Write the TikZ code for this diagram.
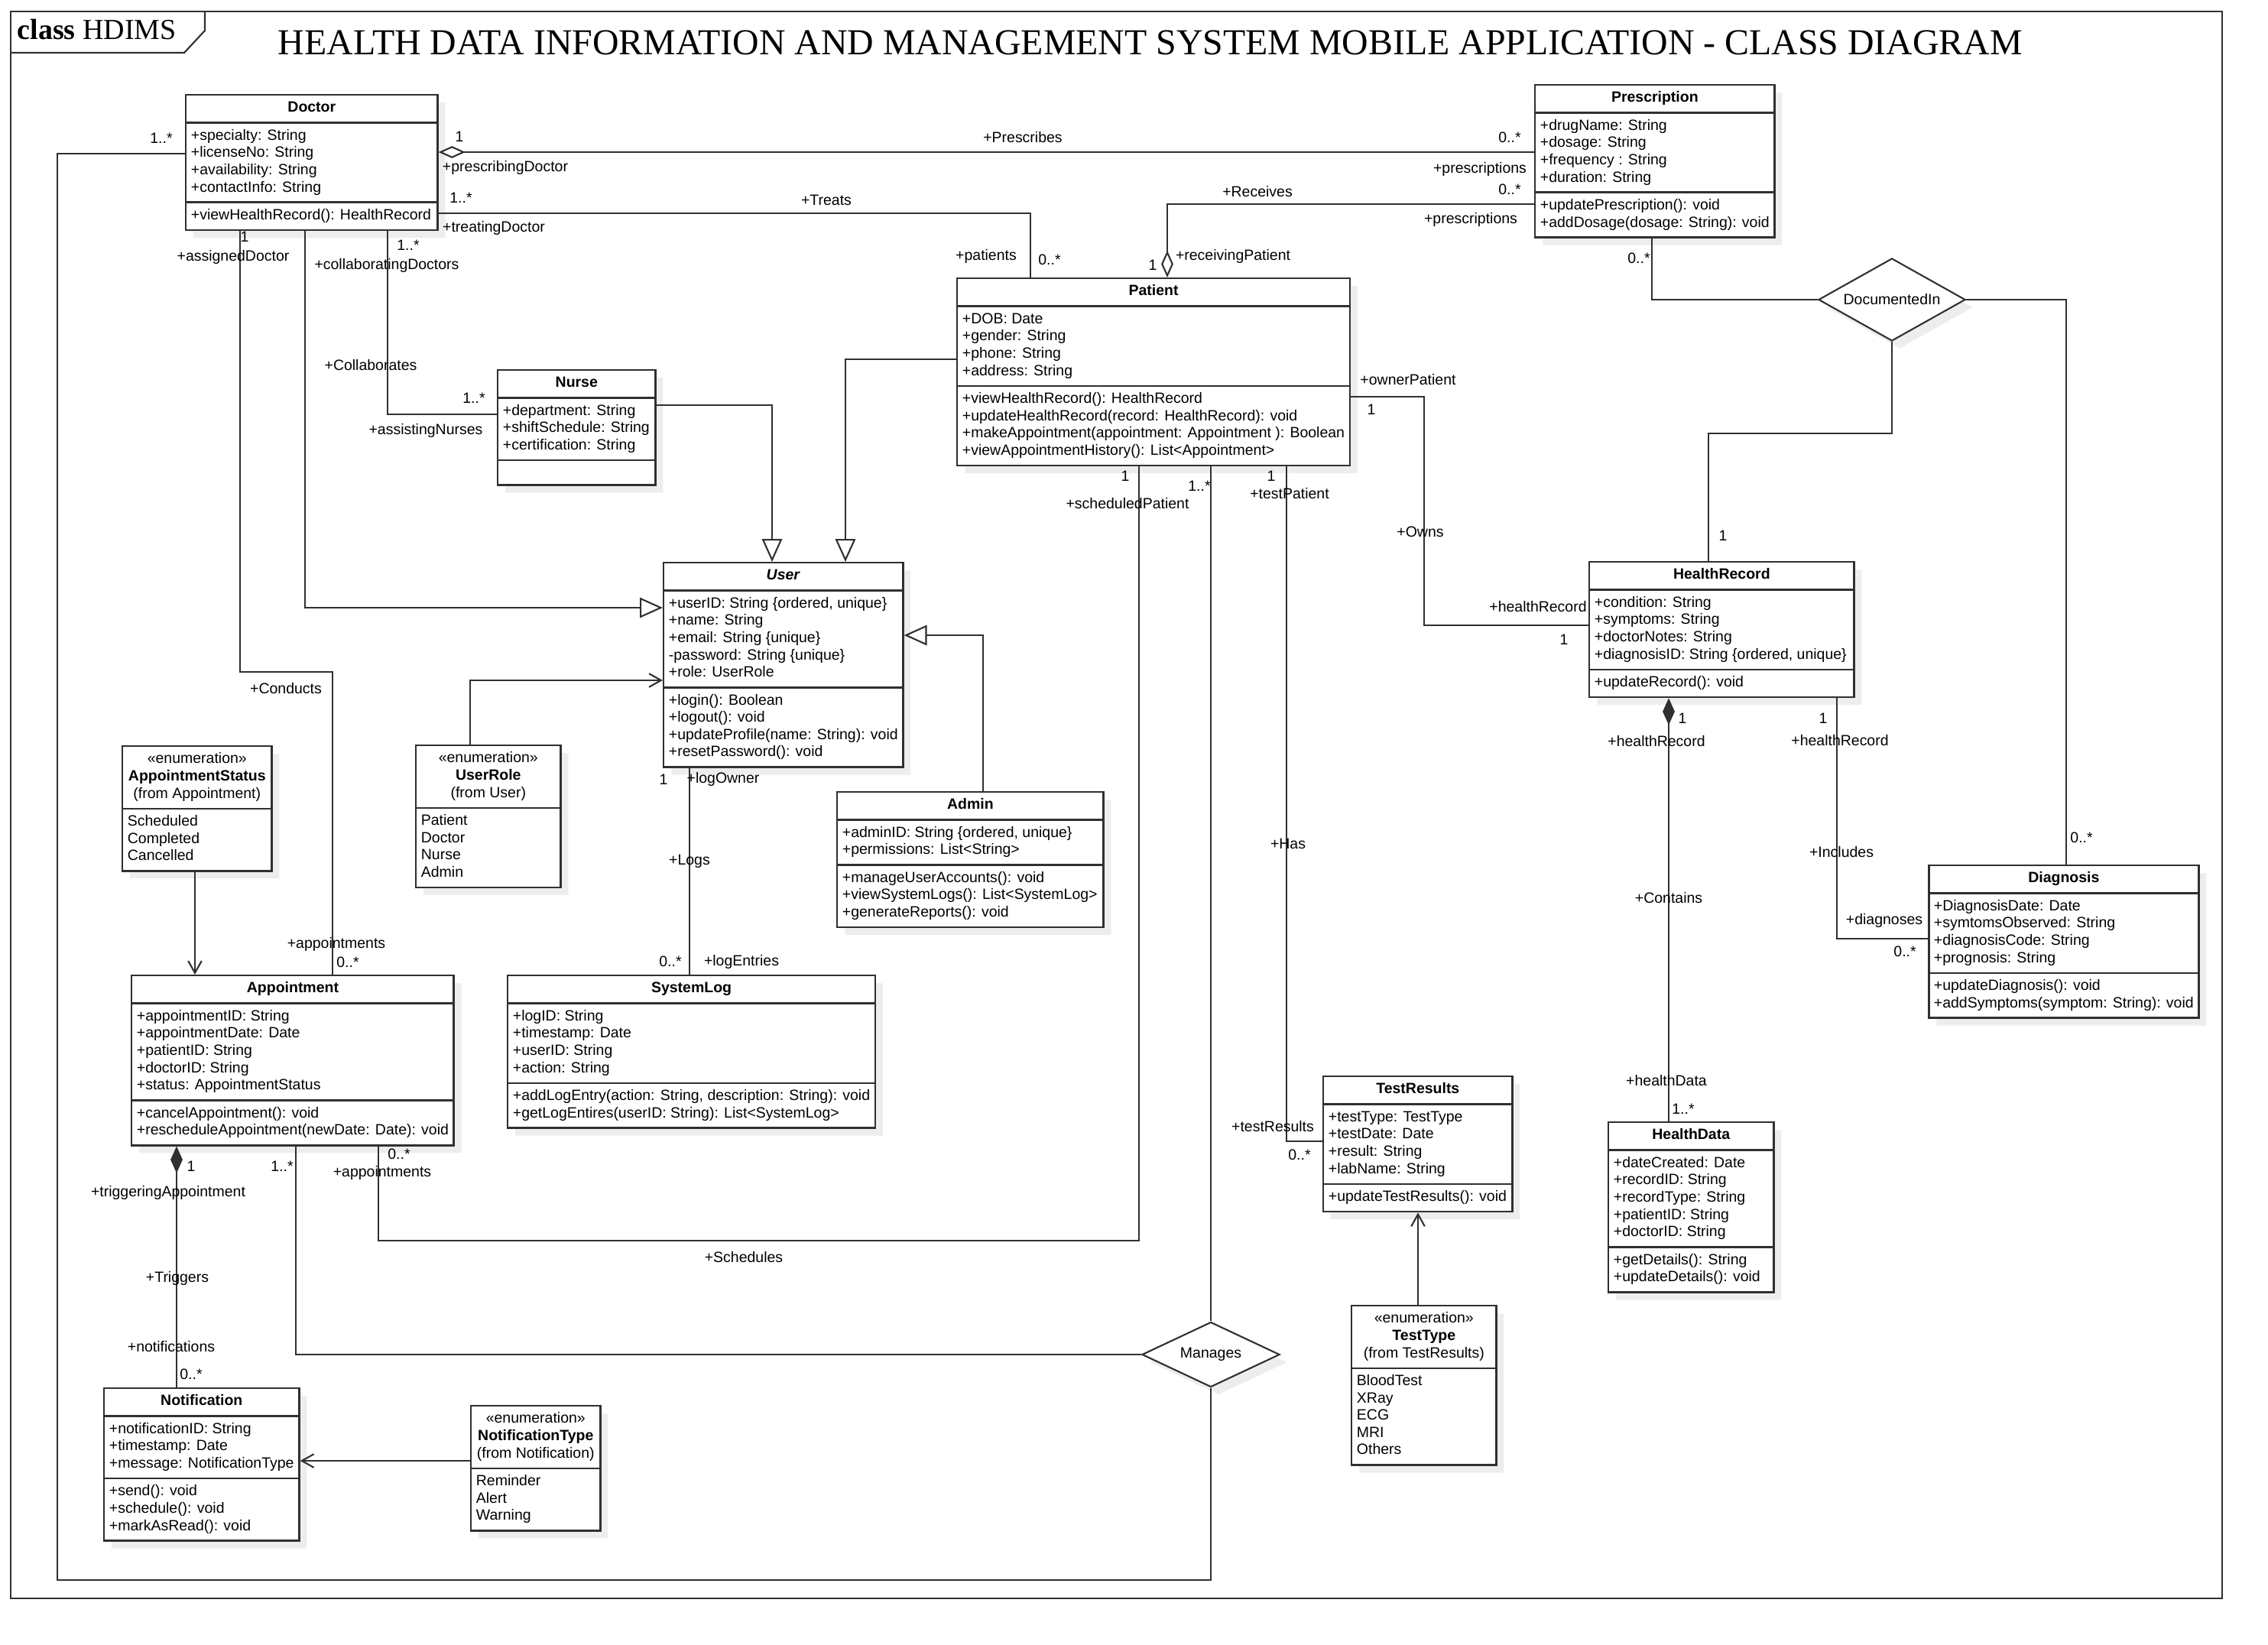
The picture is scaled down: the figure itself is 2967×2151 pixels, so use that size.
\documentclass[tikz,border=0pt]{standalone}
\usepackage{fontspec}
\setmainfont{Liberation Sans}
\newfontfamily\seriffont{Liberation Serif}
\usetikzlibrary{shapes.multipart,shapes.geometric,arrows.meta,shadows}
\definecolor{umlline}{HTML}{303030}
\newcommand{\umlrows}[1]{\begin{tabular}{@{}l@{}}#1\end{tabular}}
\newcommand{\umlname}[1]{\strut\textbf{#1}}
\newcommand{\enumhead}[2]{\begin{tabular}{@{}c@{}}«enumeration»\\\textbf{#1}\\(from #2)\end{tabular}}
\begin{document}
\begin{tikzpicture}[x=0.01cm,y=-0.01cm,
    umlfont/.style={font=\fontsize{5.54}{6.43}\selectfont},
    umlclass/.style={umlfont,draw=umlline,line width=0.7pt,fill=white,anchor=north west,
        rectangle split,rectangle split parts=3,rectangle split part align={center,left,left},
        inner xsep=1.9pt,inner ysep=1.6pt,
        drop shadow={shadow xshift=0.1cm,shadow yshift=-0.1cm,fill=black!7,opacity=1}},
    umlenum/.style={umlclass,rectangle split parts=2,rectangle split part align={center,left}},
    relbox/.style={umlfont,diamond,draw=umlline,line width=0.6pt,fill=white,inner sep=0pt,
        drop shadow={shadow xshift=0.1cm,shadow yshift=-0.1cm,fill=black!7,opacity=1}},
    umlframe/.style={draw=umlline,line width=0.6pt},
    assoc/.style={draw=umlline,line width=0.6pt},
    gen/.style={assoc,-{Triangle[open,length=8.5pt,width=7.5pt]}},
    nav/.style={assoc,-{Straight Barb[length=4.5pt,width=5pt]}},
    aggr/.style={assoc,{Diamond[open,length=10pt,width=4.5pt]}-},
    aggrend/.style={assoc,-{Diamond[open,length=10pt,width=4.5pt]}},
    comp/.style={assoc,{Diamond[length=10pt,width=4.5pt]}-},
    lbl/.style={umlfont,inner sep=0pt}]
\useasboundingbox (0,0) rectangle (2967,2151);
%cornice
\draw[umlframe] (14,15) rectangle (2907,2091);
\draw[umlframe] (14,69) -- (241,69) -- (268,40) -- (268,15);
\node[anchor=base west,font=\seriffont\fontsize{10.8}{13}\selectfont,inner sep=0pt] (tab) at (22,51) {\textbf{class} HDIMS};
\node[font=\seriffont\fontsize{13.6}{16}\selectfont,inner sep=0pt] (title) at (1505,56) {HEALTH DATA INFORMATION AND MANAGEMENT SYSTEM MOBILE APPLICATION - CLASS DIAGRAM};
%classi
\node[umlclass,minimum width=3.29cm] (doctor) at (242,123) {\umlname{Doctor}
    \nodepart{second}\umlrows{+specialty: String\\+licenseNo: String\\+availability: String\\+contactInfo: String}
    \nodepart{third}\umlrows{+viewHealthRecord(): HealthRecord}};
\node[umlclass,minimum width=3.11cm] (prescription) at (2007,110) {\umlname{Prescription}
    \nodepart{second}\umlrows{+drugName: String\\+dosage: String\\+frequency : String\\+duration: String}
    \nodepart{third}\umlrows{+updatePrescription(): void\\+addDosage(dosage: String): void}};
\node[umlclass,minimum width=5.12cm] (patient) at (1251,363) {\umlname{Patient}
    \nodepart{second}\umlrows{+DOB: Date\\+gender: String\\+phone: String\\+address: String}
    \nodepart{third}\umlrows{+viewHealthRecord(): HealthRecord\\+updateHealthRecord(record: HealthRecord): void\\+makeAppointment(appointment: Appointment ): Boolean\\+viewAppointmentHistory(): List<Appointment>}};
\node[umlclass,minimum width=2.06cm] (nurse) at (650,483) {\umlname{Nurse}
    \nodepart{second}\umlrows{+department: String\\+shiftSchedule: String\\+certification: String}
    \nodepart{third}};
\node[umlclass,minimum width=3.11cm] (user) at (867,735) {\umlname{\textit{User}}
    \nodepart{second}\umlrows{+userID: String \{ordered, unique\}\\+name: String\\+email: String \{unique\}\\-password: String \{unique\}\\+role: UserRole}
    \nodepart{third}\umlrows{+login(): Boolean\\+logout(): void\\+updateProfile(name: String): void\\+resetPassword(): void}};
\node[umlenum,minimum width=1.89cm] (userrole) at (543,974) {\enumhead{UserRole}{User}
    \nodepart{second}\umlrows{Patient\\Doctor\\Nurse\\Admin}};
\node[umlclass,minimum width=3.48cm] (admin) at (1094,1035) {\umlname{Admin}
    \nodepart{second}\umlrows{+adminID: String \{ordered, unique\}\\+permissions: List<String>}
    \nodepart{third}\umlrows{+manageUserAccounts(): void\\+viewSystemLogs(): List<SystemLog>\\+generateReports(): void}};
\node[umlclass,minimum width=4.77cm] (systemlog) at (663,1275) {\umlname{SystemLog}
    \nodepart{second}\umlrows{+logID: String\\+timestamp: Date\\+userID: String\\+action: String}
    \nodepart{third}\umlrows{+addLogEntry(action: String, description: String): void\\+getLogEntires(userID: String): List<SystemLog>}};
\node[umlenum,minimum width=1.95cm] (apptstatus) at (159,975) {\enumhead{AppointmentStatus}{Appointment}
    \nodepart{second}\umlrows{Scheduled\\Completed\\Cancelled}};
\node[umlclass,minimum width=4.2cm] (appointment) at (171,1275) {\umlname{Appointment}
    \nodepart{second}\umlrows{+appointmentID: String\\+appointmentDate: Date\\+patientID: String\\+doctorID: String\\+status: AppointmentStatus}
    \nodepart{third}\umlrows{+cancelAppointment(): void\\+rescheduleAppointment(newDate: Date): void}};
\node[umlclass,minimum width=2.55cm] (notification) at (135,1815) {\umlname{Notification}
    \nodepart{second}\umlrows{+notificationID: String\\+timestamp: Date\\+message: NotificationType}
    \nodepart{third}\umlrows{+send(): void\\+schedule(): void\\+markAsRead(): void}};
\node[umlenum,minimum width=1.69cm] (notiftype) at (615,1838) {\enumhead{NotificationType}{Notification}
    \nodepart{second}\umlrows{Reminder\\Alert\\Warning}};
\node[umlclass,minimum width=2.47cm] (testresults) at (1730,1407) {\umlname{TestResults}
    \nodepart{second}\umlrows{+testType: TestType\\+testDate: Date\\+result: String\\+labName: String}
    \nodepart{third}\umlrows{+updateTestResults(): void}};
\node[umlenum,minimum width=1.89cm] (testtype) at (1767,1707) {\enumhead{TestType}{TestResults}
    \nodepart{second}\umlrows{BloodTest\\XRay\\ECG\\MRI\\Others}};
\node[umlclass,minimum width=3.46cm] (healthrecord) at (2078,734) {\umlname{HealthRecord}
    \nodepart{second}\umlrows{+condition: String\\+symptoms: String\\+doctorNotes: String\\+diagnosisID: String \{ordered, unique\}}
    \nodepart{third}\umlrows{+updateRecord(): void}};
\node[umlclass,minimum width=2.16cm] (healthdata) at (2103,1467) {\umlname{HealthData}
    \nodepart{second}\umlrows{+dateCreated: Date\\+recordID: String\\+recordType: String\\+patientID: String\\+doctorID: String}
    \nodepart{third}\umlrows{+getDetails(): String\\+updateDetails(): void}};
\node[umlclass,minimum width=3.53cm] (diagnosis) at (2522,1131) {\umlname{Diagnosis}
    \nodepart{second}\umlrows{+DiagnosisDate: Date\\+symtomsObserved: String\\+diagnosisCode: String\\+prognosis: String}
    \nodepart{third}\umlrows{+updateDiagnosis(): void\\+addSymptoms(symptom: String): void}};
%relazioni n-arie
\node[relbox,aspect=2.12,minimum width=1.8cm,minimum height=0.85cm] (manages) at (1584,1772) {Manages};
\node[relbox,aspect=1.78,minimum width=1.92cm,minimum height=1.08cm] (documentedin) at (2475,392) {DocumentedIn};
%generalizzazioni
\draw[gen] (patient.west |- 0,470) -| (user.north -| 1106,0);
\draw[gen] (nurse.east |- 0,530) -| (user.north -| 1010,0);
\draw[gen] (doctor.south -| 399,0) |- (user.west |- 0,795);
\draw[gen] (admin.north -| 1286,0) |- (user.east |- 0,831);
%enumerazioni
\draw[nav] (userrole.north -| 615,0) |- (user.west |- 0,890);
\draw[nav] (apptstatus.south -| 255,0) -- (appointment.north -| 255,0);
\draw[nav] (notiftype.west |- 0,1911) -- (notification.east |- 0,1911);
\draw[nav] (testtype.north -| 1855,0) -- (testresults.south -| 1855,0);
%associazioni
\draw[aggr] (doctor.east |- 0,199) -- (prescription.west |- 0,199);
\draw[assoc] (doctor.east |- 0,279) -| (patient.north -| 1348,0);
\draw[aggrend] (prescription.west |- 0,267) -| (patient.north -| 1527,0);
\draw[assoc] (doctor.south -| 507,0) |- (nurse.west |- 0,542);
\coordinate (conductsbend) at (435,879);
\draw[assoc] (doctor.south -| 314,0) |- (conductsbend) -- (appointment.north -| conductsbend);
\draw[assoc] (user.south -| 902,0) -- (systemlog.north -| 902,0);
\coordinate (schedbend) at (1490,1623);
\draw[assoc] (appointment.south -| 495,0) |- (schedbend) -- (patient.south -| schedbend);
\draw[comp] (appointment.south -| 231,0) -- (notification.north -| 231,0);
\draw[assoc] (appointment.south -| 387,0) |- (manages.west);
\draw[assoc] (patient.south -| manages.north) -- (manages.north);
\coordinate (loopcorner) at (75,2067);
\draw[assoc] (doctor.west |- 0,201) -| (loopcorner) -| (manages.south);
\draw[assoc] (patient.south -| 1683,0) |- (testresults.west |- 0,1493);
\coordinate (ownsbend) at (1863,818);
\draw[assoc] (patient.east |- 0,519) -| (ownsbend) -- (healthrecord.west |- ownsbend);
\draw[comp] (healthrecord.south -| 2183,0) -- (healthdata.north -| 2183,0);
\draw[assoc] (healthrecord.south -| 2403,0) |- (diagnosis.west |- 0,1228);
\draw[assoc] (prescription.south -| 2161,0) |- (documentedin.west);
\coordinate (docbend) at (2235,567);
\draw[assoc] (documentedin.south) |- (docbend) -- (healthrecord.north -| docbend);
\draw[assoc] (documentedin.east) -| (diagnosis.north -| 2703,0);
%etichette Prescribes
\node[lbl] (pdM) at (601,179) {1};
\node[lbl] (pdR) at (661,219) {+prescribingDoctor};
\node[lbl] (prA) at (1338,180) {+Prescribes};
\node[lbl] (ppM) at (1975,180) {0..*};
\node[lbl] (ppR) at (1936,221) {+prescriptions};
%etichette Receives
\node[lbl] (rpM) at (1975,248) {0..*};
\node[lbl] (rpR) at (1924,287) {+prescriptions};
\node[lbl] (rcA) at (1645,251) {+Receives};
\node[lbl] (rtM) at (1508,347) {1};
\node[lbl] (rtR) at (1613,335) {+receivingPatient};
%etichette Treats
\node[lbl] (tdM) at (603,259) {1..*};
\node[lbl] (tdR) at (646,298) {+treatingDoctor};
\node[lbl] (trA) at (1081,262) {+Treats};
\node[lbl] (tpR) at (1290,335) {+patients};
\node[lbl] (tpM) at (1373,340) {0..*};
%etichette Collaborates
\node[lbl] (coM) at (534,321) {1..*};
\node[lbl] (coR) at (506,347) {+collaboratingDoctors};
\node[lbl] (coA) at (485,478) {+Collaborates};
\node[lbl] (cnM) at (620,521) {1..*};
\node[lbl] (cnR) at (557,563) {+assistingNurses};
%etichette Conducts
\node[lbl] (cuM) at (320,310) {1};
\node[lbl] (cuR) at (305,336) {+assignedDoctor};
\node[lbl] (cuA) at (374,901) {+Conducts};
\node[lbl] (caR) at (440,1235) {+appointments};
\node[lbl] (caM) at (455,1259) {0..*};
%etichette Manages
\node[lbl] (mdM) at (211,181) {1..*};
\node[lbl] (mpM) at (1569,636) {1..*};
\node[lbl] (maM) at (369,1526) {1..*};
%etichette Schedules
\node[lbl] (spM) at (1472,623) {1};
\node[lbl] (spR) at (1475,659) {+scheduledPatient};
\node[lbl] (scA) at (973,1645) {+Schedules};
\node[lbl] (saM) at (522,1510) {0..*};
\node[lbl] (saR) at (500,1534) {+appointments};
%etichette Triggers
\node[lbl] (taM) at (250,1526) {1};
\node[lbl] (taR) at (220,1560) {+triggeringAppointment};
\node[lbl] (tgA) at (232,1672) {+Triggers};
\node[lbl] (tnR) at (224,1762) {+notifications};
\node[lbl] (tnM) at (250,1798) {0..*};
%etichette Has
\node[lbl] (hpM) at (1663,623) {1};
\node[lbl] (hpR) at (1687,646) {+testPatient};
\node[lbl] (haA) at (1685,1104) {+Has};
\node[lbl] (htR) at (1665,1474) {+testResults};
\node[lbl] (htM) at (1700,1511) {0..*};
%etichette Owns
\node[lbl] (opR) at (1842,497) {+ownerPatient};
\node[lbl] (opM) at (1794,536) {1};
\node[lbl] (owA) at (1858,696) {+Owns};
\node[lbl] (ohR) at (2012,794) {+healthRecord};
\node[lbl] (ohM) at (2046,837) {1};
%etichette Contains
\node[lbl] (chM) at (2201,940) {1};
\node[lbl] (chR) at (2167,970) {+healthRecord};
\node[lbl] (ctA) at (2183,1175) {+Contains};
\node[lbl] (cxR) at (2180,1414) {+healthData};
\node[lbl] (cxM) at (2202,1451) {1..*};
%etichette Includes
\node[lbl] (ihM) at (2385,940) {1};
\node[lbl] (ihR) at (2407,969) {+healthRecord};
\node[lbl] (inA) at (2409,1115) {+Includes};
\node[lbl] (idR) at (2465,1204) {+diagnoses};
\node[lbl] (idM) at (2492,1245) {0..*};
%etichette DocumentedIn
\node[lbl] (dpM) at (2144,338) {0..*};
\node[lbl] (dhM) at (2254,701) {1};
\node[lbl] (ddM) at (2723,1096) {0..*};
%etichette Logs
\node[lbl] (luM) at (868,1020) {1};
\node[lbl] (luR) at (946,1019) {+logOwner};
\node[lbl] (lgA) at (902,1127) {+Logs};
\node[lbl] (lsM) at (877,1258) {0..*};
\node[lbl] (lsR) at (970,1258) {+logEntries};
\end{tikzpicture}
\end{document}
